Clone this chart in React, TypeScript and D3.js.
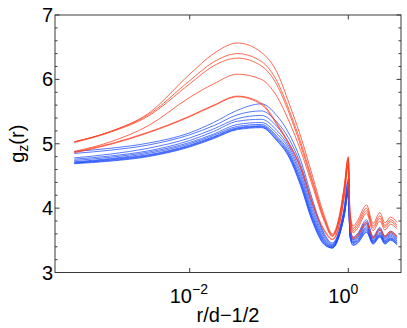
import * as d3 from "d3";

// r/d - 1/2 sample positions shared by every curve
const rd = [0.00035, 0.001, 0.003, 0.01, 0.02, 0.04, 0.08, 0.125, 0.18, 0.25, 0.35, 0.5, 0.63, 0.76, 0.89, 1.0, 1.05, 1.15, 1.3, 1.7, 2.05, 2.5, 2.9, 3.4, 4.1];

// red family (upper curves)
const red1 = [5.03, 5.19, 5.47, 6.08, 6.40, 6.565, 6.42, 6.12, 5.62, 5.12, 4.52, 3.88, 3.60, 3.85, 4.35, 4.80, 3.95, 3.72, 3.80, 4.05, 3.76, 3.93, 3.77, 3.86, 3.78];
const red2 = [5.03, 5.19, 5.45, 5.98, 6.27, 6.40, 6.28, 5.98, 5.52, 5.03, 4.45, 3.84, 3.58, 3.82, 4.32, 4.78, 3.92, 3.68, 3.76, 4.00, 3.72, 3.88, 3.73, 3.82, 3.74];
const red3 = [5.02, 5.18, 5.43, 5.93, 6.21, 6.33, 6.21, 5.92, 5.47, 4.98, 4.41, 3.82, 3.57, 3.80, 4.30, 4.76, 3.88, 3.65, 3.72, 3.96, 3.69, 3.84, 3.70, 3.79, 3.71];
const red4 = [4.88, 5.03, 5.28, 5.72, 5.93, 6.08, 6.00, 5.74, 5.34, 4.90, 4.36, 3.79, 3.56, 3.78, 4.27, 4.74, 3.85, 3.62, 3.68, 3.92, 3.65, 3.80, 3.66, 3.75, 3.68];
const red5 = [4.87, 5.00, 5.18, 5.43, 5.60, 5.74, 5.63, 5.32, 5.00, 4.65, 4.10, 3.66, 3.52, 3.72, 4.20, 4.68, 3.76, 3.54, 3.58, 3.78, 3.55, 3.68, 3.57, 3.64, 3.57];
const red6 = [4.86, 4.99, 5.17, 5.42, 5.59, 5.73, 5.61, 5.30, 4.98, 4.62, 4.07, 3.64, 3.51, 3.70, 4.18, 4.66, 3.74, 3.52, 3.56, 3.76, 3.53, 3.66, 3.55, 3.62, 3.55];

// blue family (lower curves)
const blue1 = [4.88, 4.93, 5.01, 5.17, 5.33, 5.52, 5.62, 5.44, 5.15, 4.75, 4.15, 3.60, 3.46, 3.64, 4.02, 4.46, 3.70, 3.55, 3.60, 3.82, 3.56, 3.70, 3.56, 3.64, 3.56];
const blue2 = [4.85, 4.90, 4.98, 5.14, 5.28, 5.45, 5.51, 5.34, 5.07, 4.68, 4.09, 3.58, 3.44, 3.62, 3.99, 4.42, 3.68, 3.53, 3.58, 3.79, 3.54, 3.68, 3.54, 3.62, 3.54];
const blue3 = [4.78, 4.84, 4.93, 5.09, 5.23, 5.39, 5.44, 5.27, 5.00, 4.62, 4.03, 3.55, 3.43, 3.61, 3.97, 4.38, 3.66, 3.51, 3.56, 3.76, 3.52, 3.66, 3.52, 3.60, 3.52];
const blue4 = [4.76, 4.81, 4.89, 5.05, 5.19, 5.35, 5.38, 5.21, 4.95, 4.56, 3.98, 3.52, 3.42, 3.60, 3.95, 4.34, 3.64, 3.50, 3.54, 3.74, 3.50, 3.63, 3.50, 3.58, 3.50];
const blue5 = [4.74, 4.79, 4.87, 5.02, 5.15, 5.30, 5.33, 5.16, 4.91, 4.51, 3.93, 3.50, 3.41, 3.59, 3.93, 4.31, 3.62, 3.48, 3.52, 3.71, 3.49, 3.61, 3.49, 3.56, 3.49];
const blue6 = [4.72, 4.77, 4.85, 5.00, 5.13, 5.27, 5.30, 5.12, 4.87, 4.46, 3.89, 3.48, 3.40, 3.58, 3.92, 4.29, 3.60, 3.47, 3.50, 3.69, 3.48, 3.59, 3.48, 3.54, 3.47];
const blue7 = [4.71, 4.76, 4.83, 4.98, 5.11, 5.25, 5.28, 5.10, 4.84, 4.42, 3.86, 3.47, 3.39, 3.57, 3.91, 4.27, 3.59, 3.46, 3.49, 3.67, 3.47, 3.58, 3.47, 3.53, 3.46];
const blue8 = [4.70, 4.75, 4.82, 4.97, 5.10, 5.24, 5.27, 5.08, 4.82, 4.40, 3.84, 3.45, 3.39, 3.56, 3.90, 4.25, 3.58, 3.45, 3.48, 3.65, 3.46, 3.57, 3.46, 3.52, 3.45];
const blue9 = [4.70, 4.74, 4.81, 4.96, 5.09, 5.23, 5.26, 5.06, 4.80, 4.37, 3.82, 3.44, 3.38, 3.55, 3.89, 4.23, 3.56, 3.43, 3.46, 3.63, 3.45, 3.56, 3.45, 3.51, 3.44];
const blue10 = [4.69, 4.73, 4.80, 4.95, 5.08, 5.22, 5.25, 5.05, 4.78, 4.35, 3.80, 3.43, 3.38, 3.55, 3.88, 4.22, 3.55, 3.42, 3.45, 3.62, 3.44, 3.55, 3.44, 3.50, 3.43];

const redCurves = [red1, red2, red3, red4, red5, red6];
const blueCurves = [blue1, blue2, blue3, blue4, blue5, blue6, blue7, blue8, blue9, blue10];

const yTicks = [3, 4, 5, 6, 7];
const xTicks = [0.01, 1];
const xTickExp = ["\u22122", "0"];

const W = 407, H = 328;
const margin = { top: 15, right: 6, bottom: 55.5, left: 55 };

export default function App() {
  const x = d3.scaleLog().domain([2.0e-4, 4.62]).range([margin.left, W - margin.right]);
  const y = d3.scaleLinear().domain([3, 7]).range([H - margin.bottom, margin.top]);

  const line = d3
    .line<number>()
    .x((_, i) => x(rd[i]))
    .y((d) => y(d))
    .curve(d3.curveMonotoneX);

  const x0 = margin.left, x1 = W - margin.right;
  const y0 = H - margin.bottom, y1 = margin.top;
  const minor = d3.range(3, 7.001, 0.2).filter((v) => Math.abs(v - Math.round(v)) > 0.01);
  const axisColor = "#3a3a3a";
  const font = "'Liberation Sans', Arial, Helvetica, sans-serif";

  return (
    <svg width={W} height={H} style={{ position: "absolute", left: 0, top: 0 }} fontFamily={font}>
      <rect x={0} y={0} width={W} height={H} fill="#fff" />
      {blueCurves.map((c, i) => (
        <path key={"b" + i} d={line(c) ?? ""} fill="none" stroke="#1f4dff" strokeWidth={0.9} strokeOpacity={0.85} />
      ))}
      {redCurves.map((c, i) => (
        <path key={"r" + i} d={line(c) ?? ""} fill="none" stroke="#ff3a1c" strokeWidth={0.9} strokeOpacity={0.85} />
      ))}

      {/* box */}
      <rect x={x0} y={y1} width={x1 - x0} height={y0 - y1} fill="none" stroke={axisColor} strokeWidth={1} />

      {/* y ticks */}
      {yTicks.map((t) => (
        <g key={"yt" + t}>
          <line x1={x0} x2={x0 + 4.5} y1={y(t)} y2={y(t)} stroke={axisColor} />
          <line x1={x1} x2={x1 - 4.5} y1={y(t)} y2={y(t)} stroke={axisColor} />
          <text x={53} y={y(t) + 7} textAnchor="end" fontSize={20} fill="#000">
            {t}
          </text>
        </g>
      ))}
      {minor.map((t) => (
        <g key={"ym" + t.toFixed(1)}>
          <line x1={x0} x2={x0 + 2.5} y1={y(t)} y2={y(t)} stroke={axisColor} />
          <line x1={x1} x2={x1 - 2.5} y1={y(t)} y2={y(t)} stroke={axisColor} />
        </g>
      ))}

      {/* x ticks */}
      {xTicks.map((t, i) => (
        <g key={"xt" + t}>
          <line x1={x(t)} x2={x(t)} y1={y0} y2={y0 - 4.5} stroke={axisColor} />
          <line x1={x(t)} x2={x(t)} y1={y1} y2={y1 + 4.5} stroke={axisColor} />
          <text x={x(t) - 20} y={303} fontSize={20} fill="#000">
            10
            <tspan fontSize={14} dy={-9}>
              {xTickExp[i]}
            </tspan>
          </text>
        </g>
      ))}

      {/* axis labels */}
      <text x={(x0 + x1) / 2} y={322} textAnchor="middle" fontSize={20} fill="#000">
        r/d{"\u2212"}1/2
      </text>
      <text transform={`translate(24,${(y0 + y1) / 2}) rotate(-90)`} textAnchor="middle" fontSize={20} fill="#000">
        g
        <tspan fontSize={14} dy={4}>
          z
        </tspan>
        <tspan dy={-4}>(r)</tspan>
      </text>
    </svg>
  );
}
